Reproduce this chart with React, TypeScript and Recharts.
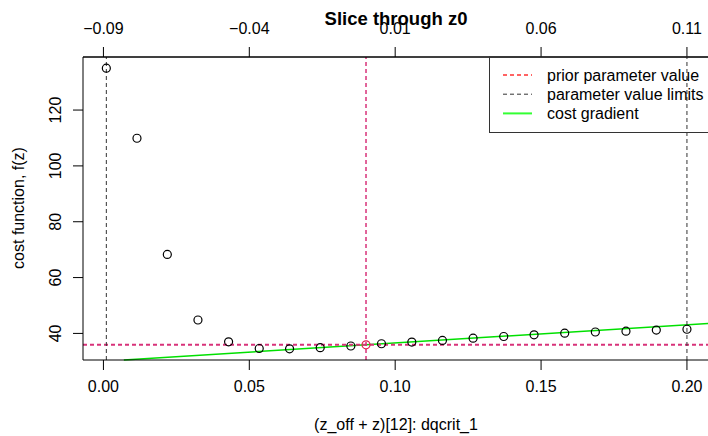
import { ComposedChart, ReferenceLine, Scatter, XAxis, YAxis } from "recharts";

// slice of the cost function through z0, parameter 12 (dqcrit_1)
const sliceX = [
  0.001, 0.0115, 0.0219, 0.0324, 0.0429, 0.0534, 0.0638, 0.0743, 0.0848, 0.0953,
  0.1057, 0.1162, 0.1267, 0.1372, 0.1476, 0.1581, 0.1686, 0.1791, 0.1895, 0.2
];
const sliceF = [
  135.0, 109.9, 68.3, 44.8, 37.0, 34.6, 34.5, 34.9, 35.5, 36.3,
  36.9, 37.5, 38.3, 38.9, 39.5, 40.1, 40.5, 40.8, 41.2, 41.5
];
const priorX = 0.09;
const priorF = 35.9;
const limitX = [0.001, 0.2];
const gradX = [0.007, 0.2079];
const gradF = [30.5, 43.6];

const bottomTicks = [0, 0.05, 0.1, 0.15, 0.2];
const topTicks = [-0.09, -0.04, 0.01, 0.06, 0.11];
const yTicks = [40, 60, 80, 100, 120];
const xDomain = [-0.007, 0.2079];
const topDomain = [-0.097, 0.1179];
const yDomain = [30.48, 139.0];

const legendItems = [
  { label: "prior parameter value", color: "#ff3030", dash: "4 3", width: 1.5 },
  { label: "parameter value limits", color: "#333333", dash: "4 3", width: 1 },
  { label: "cost gradient", color: "#33ff33", dash: undefined, width: 2 }
];

const font = "'Liberation Sans', Arial, Helvetica, sans-serif";
const plotRed = "#d8327a";

const points = sliceX.map((x, i) => ({ x, f: sliceF[i] }));
const prior = [{ x: priorX, f: priorF }];
// invisible marks so the top (offset) axis gets drawn
const topAnchor = topTicks.map((x) => ({ x, f: priorF }));

const fmt = (v: number) => (v < 0 ? "\u2212" + Math.abs(v).toFixed(2) : v.toFixed(2));

const BottomTick = ({ x, y, payload }: any) => (
  <text x={x} y={y + 20} textAnchor="middle" fontSize={16} fontFamily={font} fill="#000">
    {fmt(payload.value)}
  </text>
);

const TopTick = ({ x, y, payload }: any) => (
  <text x={x} y={y - 11.5} textAnchor="middle" fontSize={16} fontFamily={font} fill="#000">
    {fmt(payload.value)}
  </text>
);

const LeftTick = ({ x, y, payload }: any) => (
  <text
    x={x - 10}
    y={y}
    transform={`rotate(-90, ${x - 10}, ${y})`}
    textAnchor="middle"
    fontSize={16}
    fontFamily={font}
    fill="#000"
  >
    {payload.value}
  </text>
);

const OpenCircle = (color: string) => (props: any) =>
  <circle cx={props.cx} cy={props.cy} r={4} fill="none" stroke={color} strokeWidth={1.2} />;

const Nothing = () => <g />;

export default function App() {
  return (
    <div style={{ position: "fixed", left: 0, top: 0, width: 708, height: 436, overflow: "hidden", background: "#fff" }}>
      <ComposedChart width={720} height={436} margin={{ top: 17, right: 10, bottom: 36, left: 43 }}>
        <XAxis
          xAxisId="bottom"
          dataKey="x"
          type="number"
          domain={xDomain}
          allowDataOverflow
          ticks={bottomTicks}
          tick={BottomTick}
          tickSize={10}
          height={40}
          stroke="#000"
        />
        <XAxis
          xAxisId="top"
          dataKey="x"
          orientation="top"
          type="number"
          domain={topDomain}
          allowDataOverflow
          ticks={topTicks}
          tick={TopTick}
          tickSize={10}
          height={40}
          stroke="#000"
        />
        <YAxis
          yAxisId="f"
          dataKey="f"
          type="number"
          domain={yDomain}
          allowDataOverflow
          ticks={yTicks}
          tick={LeftTick}
          tickSize={10}
          width={40}
          stroke="#000"
        />
        <ReferenceLine
          xAxisId="bottom"
          yAxisId="f"
          segment={[{ x: gradX[0], y: gradF[0] }, { x: gradX[1], y: gradF[1] }]}
          stroke="#00e000"
          strokeWidth={1.5}
        />
        <ReferenceLine xAxisId="bottom" yAxisId="f" y={priorF} stroke={plotRed} strokeWidth={2} strokeDasharray="4 3" />
        <ReferenceLine xAxisId="bottom" yAxisId="f" x={priorX} stroke={plotRed} strokeWidth={1.5} strokeDasharray="4 3" />
        {limitX.map((lx) => (
          <ReferenceLine key={lx} xAxisId="bottom" yAxisId="f" x={lx} stroke="#333" strokeWidth={1} strokeDasharray="4 3" />
        ))}
        <Scatter xAxisId="top" yAxisId="f" data={topAnchor} shape={Nothing} isAnimationActive={false} />
        <Scatter xAxisId="bottom" yAxisId="f" data={points} shape={OpenCircle("#000")} isAnimationActive={false} />
        <Scatter xAxisId="bottom" yAxisId="f" data={prior} shape={OpenCircle("#e0204a")} isAnimationActive={false} />
      </ComposedChart>

      <svg
        width={708}
        height={436}
        style={{ position: "absolute", left: 0, top: 0, pointerEvents: "none" }}
        fontFamily={font}
      >
        <line x1={83} y1={57} x2={708} y2={57} stroke="#000" />
        <text x={396} y={25} textAnchor="middle" fontSize={18.5} fontWeight="bold">
          Slice through z0
        </text>
        <text x={396} y={430} textAnchor="middle" fontSize={16}>
          (z_off + z)[12]: dqcrit_1
        </text>
        <text x={24} y={208} transform="rotate(-90, 24, 208)" textAnchor="middle" fontSize={16}>
          cost function, f(z)
        </text>
        <rect x={489.5} y={57} width={240} height={75.5} fill="none" stroke="#333" strokeWidth={1} />
        {legendItems.map((item, i) => (
          <g key={item.label}>
            <line
              x1={503}
              x2={532}
              y1={75 + i * 19.2}
              y2={75 + i * 19.2}
              stroke={item.color}
              strokeWidth={item.width}
              strokeDasharray={item.dash}
            />
            <text x={547} y={75 + i * 19.2 + 5.5} fontSize={16}>
              {item.label}
            </text>
          </g>
        ))}
      </svg>
    </div>
  );
}
